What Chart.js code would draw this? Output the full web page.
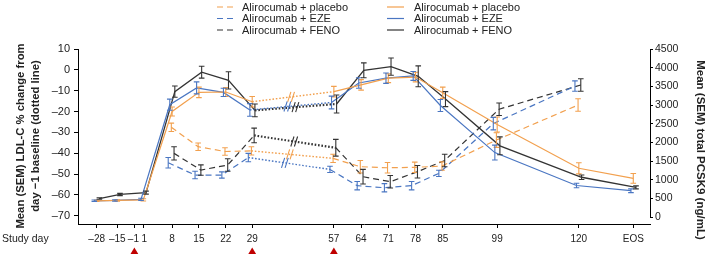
<!DOCTYPE html>
<html><head><meta charset="utf-8">
<script src="https://cdn.jsdelivr.net/npm/chart.js@4.4.1/dist/chart.umd.min.js"></script>
<style>html,body{margin:0;padding:0;background:#fff}#wrap{width:709px;height:254px}</style>
</head><body><div id="wrap"><canvas id="c" width="709" height="254"></canvas></div>
<script>
// ---------- DATA ----------
const studyDays = ['\u201328','\u201315','\u20131','1','8','15','22','29','57','64','71','78','85','99','120','EOS'];
const dosingDays = ['\u20131','29','57'];
const groupNames = ['Alirocumab + placebo','Alirocumab + EZE','Alirocumab + FENO'];

// Mean total PCSK9 (ng/mL), right axis (solid lines)
const pcsk9Placebo = [440, 450, null, 465, 2830, 3340, 3350, 3090, 3360, 3540, 3720, 3750, 3330, 2480, 1310, 1040];
const pcsk9Eze     = [440, 450, null, 480, 3010, 3460, 3340, 2870, 3070, 3590, 3720, 3780, 2990, 1730,  850,  710];
const pcsk9Feno    = [500, 610, null, 660, 3360, 3880, 3660, 2860, 3030, 3930, 4030, 3770, 3160, 1910, 1070,  800];
const pcsk9SemPlacebo = [20, 20, null, 30, 120, 140, 120, 140, 140, 140, 120, 130, 150, 200, 150, 130];
const pcsk9SemEze     = [20, 20, null, 30, 150, 160, 110, 170, 170, 140, 140, 120, 160, 200,  60,  50];
const pcsk9SemFeno    = [20, 30, null, 40, 150, 160, 230, 170, 240, 200, 230, 280, 200, 240,  60,  40];

// Mean LDL-C % change from day -1 baseline, left axis (dashed lines)
const ldlPlacebo = [null, null, null, null, -27.6, -36.9, -39.2, -38.9, -42.5, -46.5, -47.0, -46.8, -46.2, -33.7, -16.9, null];
const ldlEze     = [null, null, null, null, -44.6, -50.5, -50.5, -42.1, -47.8, -55.6, -56.6, -55.6, -49.7, -25.8,  -7.8, null];
const ldlFeno    = [null, null, null, null, -40.1, -48.1, -45.7, -31.5, -37.4, -51.3, -53.7, -48.9, -43.5, -18.9,  -7.3, null];
const ldlSemPlacebo = [null, null, null, null, 2.0, 1.8, 1.8, 2.0, 2.0, 3.0, 2.5, 2.5, 2.0, 3.5, 3.0, null];
const ldlSemEze     = [null, null, null, null, 2.5, 1.8, 1.5, 2.0, 1.5, 2.0, 2.0, 2.0, 1.5, 3.0, 2.5, null];
const ldlSemFeno    = [null, null, null, null, 3.2, 2.5, 3.0, 3.5, 4.0, 3.5, 3.0, 3.0, 3.0, 3.0, 3.0, null];

const ldlTicks = [-70, -60, -50, -40, -30, -20, -10, 0, 10];
const pcskTicks = [0, 500, 1000, 1500, 2000, 2500, 3000, 3500, 4000, 4500];

// ---------- LAYOUT / STYLE ----------
const X_AXIS_POS = [-11, -5.7, -1.3, 1, 8.4, 15.3, 22.2, 29, 50, 57, 64, 71, 78, 92, 113, 127]; // scale position of each visit (axis break between 29 and 57)
const BREAK_INDEX = 7;
const COLORS = ['#F2A04E', '#4A76C2', '#333333'];
const SOLID_OFF = [0, -0.6, 0.7];
const DASH_OFF = [-0.2, -1.0, 0.5];
const FONT = "'Liberation Sans', Arial, sans-serif";
const TXT = '#222';

const pcskAll = [pcsk9Placebo, pcsk9Eze, pcsk9Feno];
const pcskSemAll = [pcsk9SemPlacebo, pcsk9SemEze, pcsk9SemFeno];
const ldlAll = [ldlPlacebo, ldlEze, ldlFeno];
const ldlSemAll = [ldlSemPlacebo, ldlSemEze, ldlSemFeno];

function pts(vals, off) {
  return vals.map((v, i) => ({x: X_AXIS_POS[i] + off, y: v}));
}

const datasets = [];
for (let g = 0; g < 3; g++) {
  datasets.push({
    label: groupNames[g] + ' PCSK9', kind: 'solid', group: g,
    data: pts(pcskAll[g], SOLID_OFF[g]), sem: pcskSemAll[g],
    yAxisID: 'y2', borderColor: COLORS[g], borderWidth: g === 2 ? 1.3 : 1.2,
    pointRadius: 0, spanGaps: true, tension: 0, fill: false,
    segment: {
      borderDash: ctx => ctx.p0DataIndex === BREAK_INDEX ? [1.6, 1.8] : undefined,
      borderWidth: ctx => ctx.p0DataIndex === BREAK_INDEX ? (g === 2 ? 2.2 : 1.4) : undefined
    }
  });
  datasets.push({
    label: groupNames[g] + ' LDL-C', kind: 'dash', group: g,
    data: pts(ldlAll[g], DASH_OFF[g]), sem: ldlSemAll[g],
    yAxisID: 'y', borderColor: COLORS[g], borderWidth: 1.2, borderDash: [6, 4],
    pointRadius: 0, spanGaps: false, tension: 0, fill: false,
    segment: {
      borderDash: ctx => ctx.p0DataIndex === BREAK_INDEX ? [1.6, 1.8] : undefined,
      borderWidth: ctx => ctx.p0DataIndex === BREAK_INDEX ? (g === 2 ? 2.2 : 1.4) : undefined
    }
  });
}

const decorPlugin = {
  id: 'decor',
  afterDatasetsDraw(chart) {
    const ctx = chart.ctx;
    const xs = chart.scales.x;
    chart.data.datasets.forEach((ds, di) => {
      const ys = chart.scales[ds.yAxisID];
      ctx.save();
      ctx.strokeStyle = ds.borderColor;
      ctx.lineWidth = 1.1;
      ctx.setLineDash([]);
      ds.data.forEach((p, i) => {
        const s = ds.sem[i];
        if (p.y == null || s == null) return;
        const x = xs.getPixelForValue(p.x);
        const y1 = ys.getPixelForValue(p.y - s);
        const y2 = ys.getPixelForValue(p.y + s);
        ctx.beginPath();
        ctx.moveTo(x, y1); ctx.lineTo(x, y2);
        ctx.moveTo(x - 2.8, y1); ctx.lineTo(x + 2.8, y1);
        ctx.moveTo(x - 2.8, y2); ctx.lineTo(x + 2.8, y2);
        ctx.stroke();
      });
      // break marks "//" on the dotted segment
      const a = ds.data[BREAK_INDEX], b = ds.data[BREAK_INDEX + 1];
      if (a.y != null && b.y != null) {
        const bx = 39 + (ds.kind === 'solid' ? SOLID_OFF[ds.group] : DASH_OFF[ds.group]) * 1.6;
        const t = (bx - a.x) / (b.x - a.x);
        const by = a.y + (b.y - a.y) * t;
        const px = xs.getPixelForValue(bx), py = ys.getPixelForValue(by);
        ctx.lineWidth = 1.1;
        ctx.beginPath();
        [-1.8, 1.8].forEach(dx => {
          ctx.moveTo(px + dx - 1.6, py + 5);
          ctx.lineTo(px + dx + 1.6, py - 5);
        });
        ctx.stroke();
      }
      ctx.restore();
    });
  },
  afterDraw(chart) {
    const ctx = chart.ctx;
    const xs = chart.scales.x;
    const y2 = chart.scales.y2;
    ctx.save();
    // right axis line from 0 to 4500
    ctx.strokeStyle = '#000'; ctx.lineWidth = 1;
    ctx.beginPath();
    ctx.moveTo(chart.chartArea.right + 0.5, y2.getPixelForValue(4500));
    ctx.lineTo(chart.chartArea.right + 0.5, y2.getPixelForValue(0));
    ctx.stroke();
    // dosing triangles
    ctx.fillStyle = '#C00000';
    dosingDays.forEach(d => {
      const px = xs.getPixelForValue(X_AXIS_POS[studyDays.indexOf(d)]);
      ctx.beginPath();
      ctx.moveTo(px, 247.5); ctx.lineTo(px + 4.5, 255); ctx.lineTo(px - 4.5, 255);
      ctx.closePath(); ctx.fill();
    });
    // texts
    ctx.fillStyle = TXT;
    ctx.font = '10.5px ' + FONT;
    ctx.textBaseline = 'middle'; ctx.textAlign = 'left';
    ctx.fillText('Study day', 2, 239.5);
    // left title
    ctx.font = 'bold 11.3px ' + FONT;
    ctx.textAlign = 'center';
    ctx.save(); ctx.translate(21, 136); ctx.rotate(-Math.PI / 2);
    ctx.fillText('Mean (SEM) LDL-C % change from', 0, 0); ctx.restore();
    ctx.save(); ctx.translate(35.5, 136); ctx.rotate(-Math.PI / 2);
    ctx.fillText('day \u22121 baseline (dotted line)', 0, 0); ctx.restore();
    // right title
    ctx.font = 'bold 11.5px ' + FONT;
    ctx.save(); ctx.translate(700.5, 150); ctx.rotate(Math.PI / 2);
    ctx.fillText('Mean (SEM) total PCSK9 (ng/mL)', 0, 0); ctx.restore();
    // legend
    ctx.font = '11px ' + FONT; ctx.textAlign = 'left';
    const rows = [7, 18.5, 30];
    for (let g = 0; g < 3; g++) {
      ctx.strokeStyle = COLORS[g]; ctx.lineWidth = 1.2;
      ctx.setLineDash([6, 4]);
      ctx.beginPath(); ctx.moveTo(217, rows[g]); ctx.lineTo(236, rows[g]); ctx.stroke();
      ctx.setLineDash([]);
      ctx.beginPath(); ctx.moveTo(387, rows[g]); ctx.lineTo(404, rows[g]); ctx.stroke();
      ctx.fillStyle = TXT;
      ctx.fillText(groupNames[g], 242, rows[g] + 0.5);
      ctx.fillText(groupNames[g], 414, rows[g] + 0.5);
    }
    ctx.restore();
  }
};

new Chart(document.getElementById('c'), {
  type: 'line',
  data: {datasets},
  options: {
    responsive: false, animation: false, devicePixelRatio: 1,
    layout: {padding: {top: 49, left: 0, right: 0, bottom: 0}},
    plugins: {legend: {display: false}, tooltip: {enabled: false}},
    scales: {
      x: {
        type: 'linear', min: -15.8, max: 131.3,
        afterBuildTicks: s => { s.ticks = X_AXIS_POS.map(v => ({value: v})); },
        afterFit: s => { s.height = 30; },
        ticks: {callback: (v, i) => i === 2 ? studyDays[i] + '\u2009' : (i === 3 ? '\u2009' + studyDays[i] : studyDays[i]), autoSkip: false, maxRotation: 0, padding: 5, color: TXT, font: {family: FONT, size: 10}},
        grid: {drawOnChartArea: false, drawTicks: true, tickLength: 4, color: '#000', tickColor: '#000'},
        border: {display: true, color: '#000', width: 1}
      },
      y: {
        position: 'left', min: -74, max: 10,
        afterBuildTicks: s => { s.ticks = ldlTicks.map(v => ({value: v})); },
        afterFit: s => { s.width = 78; },
        ticks: {padding: 4, color: TXT, font: {family: FONT, size: 11}, callback: v => String(v).replace('-', '\u2013')},
        grid: {drawOnChartArea: false, drawTicks: true, tickLength: 4, color: '#000', tickColor: '#000'},
        border: {display: true, color: '#000', width: 1}
      },
      y2: {
        position: 'right', min: -180, max: 4500,
        afterBuildTicks: s => { s.ticks = pcskTicks.map(v => ({value: v})); },
        afterFit: s => { s.width = 59; },
        ticks: {padding: 2, color: TXT, font: {family: FONT, size: 10.5}, callback: v => String(v)},
        grid: {drawOnChartArea: false, drawTicks: true, tickLength: 3, color: '#000', tickColor: '#000'},
        border: {display: false}
      }
    }
  },
  plugins: [decorPlugin]
});
</script></body></html>
